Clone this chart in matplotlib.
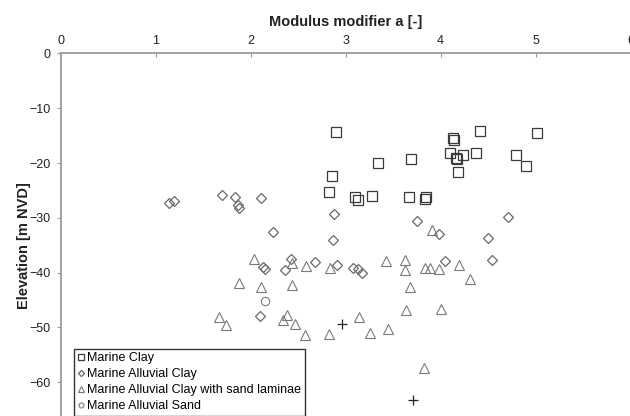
import matplotlib
matplotlib.use('Agg')
import matplotlib.pyplot as plt

plt.rcParams['font.family'] = ['Liberation Sans', 'DejaVu Sans']

# Marine Clay (carrés)
clay_a = [2.90, 4.13, 4.14, 4.41, 5.01, 3.34, 3.69, 4.10, 4.23, 4.16, 4.17, 4.37,
          4.79, 4.90, 4.18, 2.86, 2.82, 3.10, 3.13, 3.28, 3.67, 3.85, 3.84]
clay_z = [-14.4, -15.4, -15.7, -14.2, -14.5, -20.0, -19.3, -18.2, -18.5, -19.0, -19.3, -18.2,
          -18.6, -20.5, -21.7, -22.4, -25.2, -26.2, -26.8, -26.0, -26.1, -26.2, -26.5]

# Marine Alluvial Clay (losanges)
alluv_a = [1.14, 1.19, 1.70, 1.84, 1.87, 1.88, 2.11, 2.23, 2.88, 2.87, 3.75, 3.98, 4.50,
           4.71, 2.42, 2.13, 2.15, 2.36, 2.68, 2.91, 3.08, 3.13, 3.17, 4.05, 4.54, 2.10]
alluv_z = [-27.3, -26.9, -25.8, -26.2, -27.6, -28.2, -26.3, -32.6, -29.3, -34.0, -30.6, -33.0, -33.6,
           -29.8, -37.5, -39.0, -39.3, -39.5, -38.0, -38.6, -39.2, -39.4, -40.1, -37.8, -37.7, -47.9]

# Marine Alluvial Clay with sand laminae (triangles)
lam_a = [2.04, 1.88, 2.11, 2.44, 2.44, 2.58, 2.83, 1.67, 1.74, 2.38, 2.34, 2.47, 2.57, 2.82,
         3.91, 3.42, 3.62, 3.62, 3.84, 3.89, 3.98, 4.19, 4.31, 3.68, 3.64, 4.00, 3.14, 3.26,
         3.45, 3.82]
lam_z = [-37.5, -41.9, -42.7, -42.3, -38.2, -38.8, -39.1, -48.1, -49.5, -47.7, -48.7, -49.3, -51.3, -51.1,
         -32.2, -37.8, -37.6, -39.5, -39.1, -39.2, -39.4, -38.6, -41.2, -42.6, -46.8, -46.6, -48.0, -51.0,
         -50.2, -57.4]

# Marine Alluvial Sand (cercles)
sand_a = [2.15]
sand_z = [-45.1]

# série "+" (libellé coupé dans l'original)
plus_a = [2.96, 3.71]
plus_z = [-49.4, -63.3]

fig = plt.figure(figsize=(6.3, 4.16), dpi=100)
ax = fig.add_axes([0.0963, -0.0507, 0.9048, 0.9221])

ax.plot(clay_a, clay_z, 's', ms=6.8, mfc='none', mec='#3a3a3a', mew=0.9, label='Marine Clay')
ax.plot(alluv_a, alluv_z, 'D', ms=5.2, mfc='none', mec='#6a6a6a', mew=0.9, label='Marine Alluvial Clay')
ax.plot(lam_a, lam_z, '^', ms=6.8, mfc='none', mec='#7a7a7a', mew=0.8,
        label='Marine Alluvial Clay with sand laminae')
ax.plot(sand_a, sand_z, 'o', ms=6, mfc='none', mec='#7a7a7a', mew=0.8, label='Marine Alluvial Sand')
ax.plot(plus_a, plus_z, '+', ms=7.5, mec='#222222', mew=0.9, label='_nolegend_')

ax.set_xlim(0, 6)
ax.set_ylim(-70, 0)
ax.set_xticks(range(0, 7))
ax.set_yticks(range(-60, 1, 10))

# axe x en haut
ax.xaxis.tick_top()
ax.xaxis.set_label_position('top')
ax.set_xlabel('Modulus modifier a [-]', fontsize=10.5, fontweight='bold', color='#222222', labelpad=6)
ax.set_ylabel('Elevation [m NVD]', fontsize=10.5, fontweight='bold', color='#222222', labelpad=-1)

for s in ['right', 'bottom']:
    ax.spines[s].set_visible(False)
for s in ['top', 'left']:
    ax.spines[s].set_color('#9a9a9a')
    ax.spines[s].set_linewidth(1.3)

ax.tick_params(axis='x', direction='in', length=3, color='#9a9a9a', labelsize=9, labelcolor='#222222', pad=5)
ax.tick_params(axis='y', direction='out', length=3, color='#9a9a9a', labelsize=9, labelcolor='#222222', pad=4)

leg = ax.legend(loc='upper left', bbox_to_anchor=(73.7 / 630, 1 - 348.7 / 416),
                bbox_transform=fig.transFigure, fontsize=9, markerscale=0.6,
                handlelength=0.6, handletextpad=0.2, labelspacing=0.32,
                borderpad=0.3, borderaxespad=0, fancybox=False, framealpha=1)
leg.get_frame().set_edgecolor('#333333')
leg.get_frame().set_linewidth(1.0)

plt.savefig('out.png', dpi=100)
